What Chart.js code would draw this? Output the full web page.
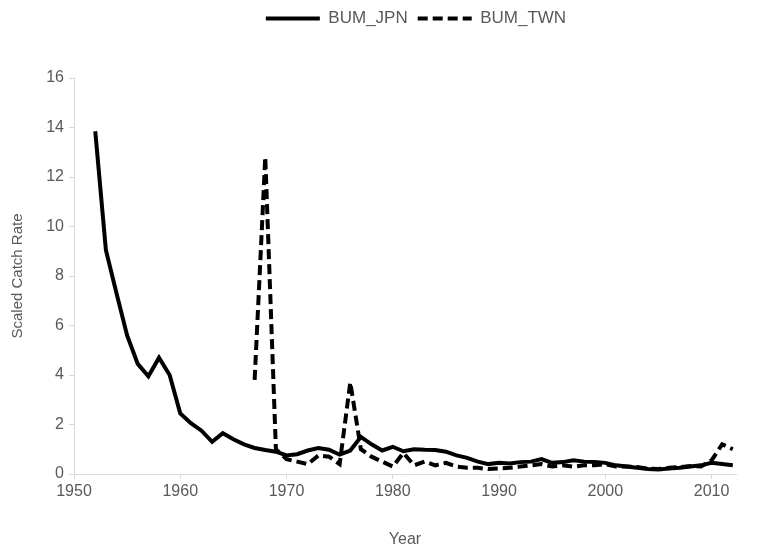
<!DOCTYPE html>
<html>
<head>
<meta charset="utf-8">
<script src="https://cdn.jsdelivr.net/npm/chart.js@4/dist/chart.umd.min.js"></script>
<style>
  html, body { margin: 0; padding: 0; background: #fff; }
  #wrap { width: 758px; height: 549px; }
</style>
</head>
<body>
<div id="wrap"><canvas id="chart"></canvas></div>
<script>
// scaled catch rate of blue marlin, Japan and Taiwan longline
const jpnYears = [];
for (let y = 1952; y <= 2012; y++) jpnYears.push(y);
const jpnRate = [13.85, 9.05, 7.3, 5.6, 4.45, 3.95, 4.7, 4.0, 2.45, 2.05,
  1.75, 1.3, 1.65, 1.4, 1.2, 1.05, 0.97, 0.9, 0.75, 0.8,
  0.95, 1.05, 0.98, 0.78, 0.95, 1.5, 1.2, 0.95, 1.1, 0.92,
  1.0, 0.98, 0.97, 0.9, 0.75, 0.65, 0.5, 0.4, 0.45, 0.42,
  0.48, 0.5, 0.6, 0.45, 0.48, 0.55, 0.5, 0.48, 0.45, 0.35,
  0.3, 0.25, 0.2, 0.18, 0.22, 0.25, 0.3, 0.35, 0.45, 0.4, 0.35];

const twnYears = [];
for (let y = 1967; y <= 2012; y++) twnYears.push(y);
const twnRate = [3.8, 12.8, 1.0, 0.6, 0.5, 0.4, 0.75, 0.7, 0.4, 3.7,
  1.0, 0.7, 0.5, 0.3, 0.85, 0.35, 0.5, 0.35, 0.45, 0.3,
  0.25, 0.25, 0.2, 0.22, 0.25, 0.3, 0.35, 0.4, 0.3, 0.35,
  0.3, 0.35, 0.35, 0.4, 0.3, 0.3, 0.28, 0.22, 0.2, 0.25,
  0.28, 0.32, 0.3, 0.55, 1.2, 1.0];

const xTicks = [1950, 1960, 1970, 1980, 1990, 2000, 2010];
const yTicks = [0, 2, 4, 6, 8, 10, 12, 14, 16];

const toPoints = (xs, ys) => xs.map((x, i) => ({ x: x, y: ys[i] }));

const textColor = "#595959";
const axisColor = "#d9d9d9";
const dashes = [[], [10, 5]];

// extra room under the legend, and legend pushed a bit to the right
const legendTweak = {
  id: "legendTweak",
  beforeInit(chart) {
    const lg = chart.legend;
    if (!lg) return;
    const fit = lg.fit;
    lg.fit = function () {
      fit.bind(lg)();
      this.height += 41;
    };
    const draw = lg.draw;
    lg.draw = function () {
      chart.ctx.save();
      chart.ctx.translate(48, 0);
      draw.apply(lg, arguments);
      chart.ctx.restore();
    };
  },
};

new Chart(document.getElementById("chart"), {
  type: "scatter",
  data: {
    datasets: [
      {
        label: "BUM_JPN",
        data: toPoints(jpnYears, jpnRate),
        showLine: true,
        borderColor: "#000",
        backgroundColor: "#000",
        borderWidth: 4,
        borderDash: dashes[0],
        pointRadius: 0,
        tension: 0,
      },
      {
        label: "BUM_TWN",
        data: toPoints(twnYears, twnRate),
        showLine: true,
        borderColor: "#000",
        backgroundColor: "#000",
        borderWidth: 4,
        borderDash: dashes[1],
        pointRadius: 0,
        tension: 0,
      },
    ],
  },
  options: {
    responsive: true,
    maintainAspectRatio: false,
    animation: false,
    layout: { padding: { left: 0, right: 22, top: 0, bottom: 0 } },
    plugins: {
      legend: {
        position: "top",
        labels: {
          usePointStyle: true,
          pointStyle: "line",
          pointStyleWidth: 54,
          boxHeight: 17,
          padding: 10,
          color: textColor,
          font: { family: "Liberation Sans, Arial", size: 17 },
          generateLabels: (chart) => {
            const items = Chart.defaults.plugins.legend.labels.generateLabels(chart);
            items.forEach((it, i) => {
              it.lineDash = dashes[i];
              it.lineWidth = 4;
              it.pointStyle = "line";
            });
            return items;
          },
        },
      },
      tooltip: { enabled: false },
    },
    scales: {
      x: {
        type: "linear",
        min: 1950,
        max: 2012.3,
        afterBuildTicks: (scale) => {
          scale.ticks = xTicks.map((v) => ({ value: v }));
        },
        afterFit: (scale) => { scale.height = 75; },
        grid: { display: true, drawOnChartArea: false, drawTicks: true, tickLength: 5, color: axisColor },
        border: { color: axisColor, width: 1 },
        ticks: {
          color: textColor,
          padding: 3,
          maxRotation: 0,
          callback: (v) => String(v),
          font: { family: "Liberation Sans, Arial", size: 16 },
        },
        title: {
          display: true,
          text: "Year",
          color: textColor,
          padding: { top: 4, bottom: 0 },
          font: { family: "Liberation Sans, Arial", size: 16 },
        },
      },
      y: {
        min: 0,
        max: 16,
        afterBuildTicks: (scale) => {
          scale.ticks = yTicks.map((v) => ({ value: v }));
        },
        afterFit: (scale) => { scale.width = 74; },
        grid: { display: true, drawOnChartArea: false, drawTicks: true, tickLength: 5, color: axisColor },
        border: { color: axisColor, width: 1 },
        ticks: {
          color: textColor,
          padding: 5,
          font: { family: "Liberation Sans, Arial", size: 16 },
        },
        title: {
          display: true,
          text: "Scaled Catch Rate",
          color: textColor,
          padding: { top: 9, bottom: 4 },
          font: { family: "Liberation Sans, Arial", size: 15 },
        },
      },
    },
  },
  plugins: [legendTweak],
});
</script>
</body>
</html>
